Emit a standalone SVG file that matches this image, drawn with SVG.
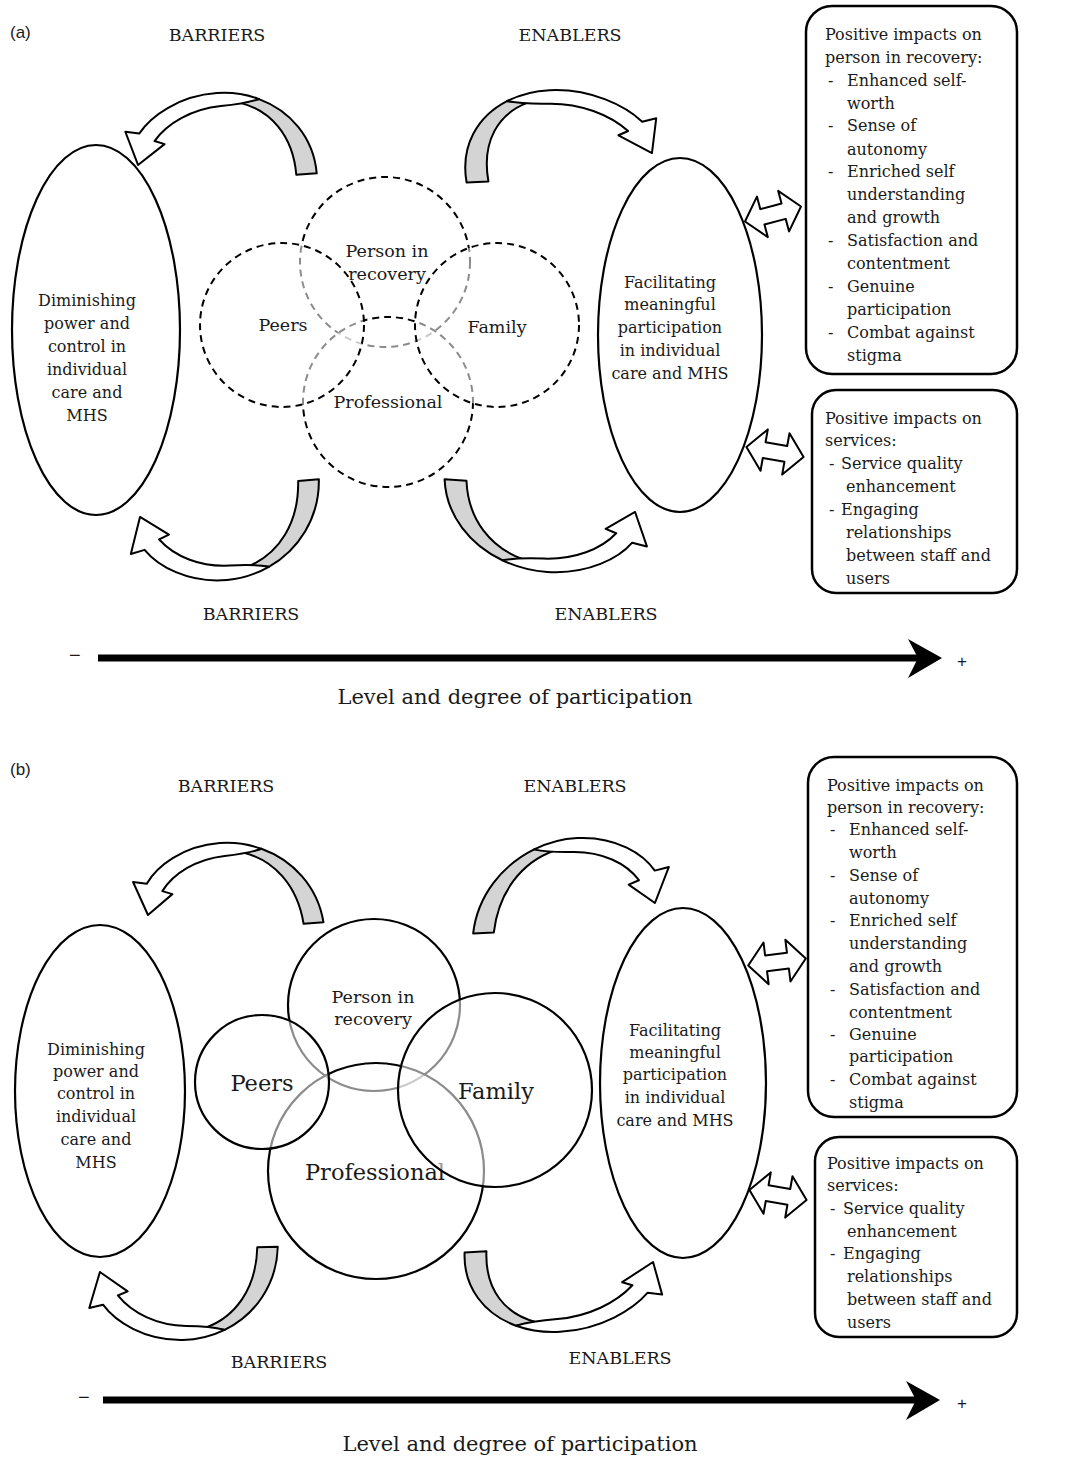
<svg xmlns="http://www.w3.org/2000/svg" xmlns:xlink="http://www.w3.org/1999/xlink" width="1082" height="1473" viewBox="0 0 1082 1473">
<style>
text{font-family:"DejaVu Serif","Liberation Serif",serif;fill:#1a1a1a}
.t{font-size:16px}
.c{text-anchor:middle}
.h{font-size:17.5px}
.m{font-size:17.5px}
.ax{font-size:21px}
.lab{font-family:"Liberation Sans",Arial,sans-serif;font-size:17px}
.sg{font-family:"Liberation Sans",Arial,sans-serif;font-size:20px}
.big{font-size:22.5px}
.node{fill:#fff;stroke:#000;stroke-width:2.2}
.dash{fill:#fff;fill-opacity:0.55;stroke:#000;stroke-width:2;stroke-dasharray:7 5}
.solid{fill:#fff;fill-opacity:0.55;stroke:#000;stroke-width:2.2}
.box{fill:#fff;stroke:#000;stroke-width:2.5}
.gr{fill:#d4d4d4;stroke:#000;stroke-width:2;stroke-linejoin:round}
.wh{fill:#fff;stroke:#000;stroke-width:2;stroke-linejoin:round}
</style>
<defs>
<g id="carrow">
<path class="gr" vector-effect="non-scaling-stroke" d="M -10,0 C -10,-38.5 12,-68.4 42.4,-82.6 L 62,-80 C 32,-70 11,-42 11,0 Z"/>
<path class="wh" vector-effect="non-scaling-stroke" d="M 42.4,-82.6 C 55.5,-88.7 70,-92 85,-92 C 125,-92 155,-72 168,-55 L 182,-58 L 172,-22 L 143,-42 L 153,-46 C 138,-64 112,-77 82,-78 C 64,-78.5 52,-80 42.4,-82.6 Z"/>
</g>
<path id="darrow" class="wh" d="M -29,0 L -11,-21 L -11,-8 L 11,-8 L 11,-21 L 29,0 L 11,21 L 11,8 L -11,8 L -11,21 Z"/>
</defs>
<rect width="1082" height="1473" fill="#fff"/>

<!-- Panel (a) -->
<text class="lab" x="10" y="38">(a)</text>
<text class="h c" x="217" y="41">BARRIERS</text>
<text class="h c" x="570" y="41">ENABLERS</text>
<text class="h c" x="251" y="620">BARRIERS</text>
<text class="h c" x="606" y="620">ENABLERS</text>
<text class="ax c" x="515" y="704">Level and degree of participation</text>

<g id="a-diminishing">
<ellipse class="node" cx="96" cy="330" rx="84" ry="185"/>
<text class="t c" x="87" y="306">Diminishing</text>
<text class="t c" x="87" y="329">power and</text>
<text class="t c" x="87" y="352">control in</text>
<text class="t c" x="87" y="375">individual</text>
<text class="t c" x="87" y="398">care and</text>
<text class="t c" x="87" y="421">MHS</text>
</g>
<g id="a-facilitating">
<ellipse class="node" cx="680" cy="335" rx="82" ry="177"/>
<text class="t c" x="670" y="288">Facilitating</text>
<text class="t c" x="670" y="310">meaningful</text>
<text class="t c" x="670" y="333">participation</text>
<text class="t c" x="670" y="356">in individual</text>
<text class="t c" x="670" y="379">care and MHS</text>
</g>
<g id="a-person">
<circle class="dash" cx="385" cy="262" r="85"/>
<text class="m c" x="387" y="257">Person in</text>
<text class="m c" x="387" y="280">recovery</text>
</g>
<g id="a-professional">
<circle class="dash" cx="388" cy="402" r="85"/>
<text class="m c" x="388" y="408">Professional</text>
</g>
<g id="a-peers">
<circle class="dash" cx="282" cy="325" r="82"/>
<text class="m c" x="283" y="331">Peers</text>
</g>
<g id="a-family">
<circle class="dash" cx="497" cy="325" r="82"/>
<text class="m c" x="497" y="333">Family</text>
</g>
<g id="a-box-person">
<rect class="box" x="806" y="6" width="211" height="368" rx="26"/>
<text class="t" x="825" y="40">Positive impacts on</text>
<text class="t" x="825" y="63">person in recovery:</text>
<text class="t" x="828" y="86">-</text><text class="t" x="847" y="86">Enhanced self-</text>
<text class="t" x="847" y="109">worth</text>
<text class="t" x="828" y="131">-</text><text class="t" x="847" y="131">Sense of</text>
<text class="t" x="847" y="155">autonomy</text>
<text class="t" x="828" y="177">-</text><text class="t" x="847" y="177">Enriched self</text>
<text class="t" x="847" y="200">understanding</text>
<text class="t" x="847" y="223">and growth</text>
<text class="t" x="828" y="246">-</text><text class="t" x="847" y="246">Satisfaction and</text>
<text class="t" x="847" y="269">contentment</text>
<text class="t" x="828" y="292">-</text><text class="t" x="847" y="292">Genuine</text>
<text class="t" x="847" y="315">participation</text>
<text class="t" x="828" y="338">-</text><text class="t" x="847" y="338">Combat against</text>
<text class="t" x="847" y="361">stigma</text>
</g>
<g id="a-box-services">
<rect class="box" x="812" y="390" width="205" height="203" rx="24"/>
<text class="t" x="825" y="424">Positive impacts on</text>
<text class="t" x="825" y="446">services:</text>
<text class="t" x="829" y="469">-</text><text class="t" x="841" y="469">Service quality</text>
<text class="t" x="846" y="492">enhancement</text>
<text class="t" x="829" y="515">-</text><text class="t" x="841" y="515">Engaging</text>
<text class="t" x="846" y="538">relationships</text>
<text class="t" x="846" y="561">between staff and</text>
<text class="t" x="846" y="584">users</text>
</g>

<!-- Panel (b) -->
<text class="lab" x="10" y="775">(b)</text>
<text class="h c" x="226" y="792">BARRIERS</text>
<text class="h c" x="575" y="792">ENABLERS</text>
<text class="h c" x="279" y="1368">BARRIERS</text>
<text class="h c" x="620" y="1364">ENABLERS</text>
<text class="ax c" x="520" y="1451">Level and degree of participation</text>

<g id="b-diminishing">
<ellipse class="node" cx="100" cy="1091" rx="85" ry="166"/>
<text class="t c" x="96" y="1055">Diminishing</text>
<text class="t c" x="96" y="1077">power and</text>
<text class="t c" x="96" y="1099">control in</text>
<text class="t c" x="96" y="1122">individual</text>
<text class="t c" x="96" y="1145">care and</text>
<text class="t c" x="96" y="1168">MHS</text>
</g>
<g id="b-facilitating">
<ellipse class="node" cx="683" cy="1083" rx="83" ry="175"/>
<text class="t c" x="675" y="1036">Facilitating</text>
<text class="t c" x="675" y="1058">meaningful</text>
<text class="t c" x="675" y="1080">participation</text>
<text class="t c" x="675" y="1103">in individual</text>
<text class="t c" x="675" y="1126">care and MHS</text>
</g>
<g id="b-person">
<circle class="solid" cx="374" cy="1005" r="86"/>
<text class="m c" x="373" y="1003">Person in</text>
<text class="m c" x="373" y="1025">recovery</text>
</g>
<g id="b-professional">
<circle class="solid" cx="376" cy="1171" r="108"/>
<text class="big c" x="375" y="1180">Professional</text>
</g>
<g id="b-peers">
<circle class="solid" cx="262" cy="1082" r="67"/>
<text class="big c" x="262" y="1091">Peers</text>
</g>
<g id="b-family">
<circle class="solid" cx="495" cy="1090" r="97"/>
<text class="big c" x="496" y="1099">Family</text>
</g>
<g id="b-box-person">
<rect class="box" x="808" y="757" width="209" height="360" rx="26"/>
<text class="t" x="827" y="791">Positive impacts on</text>
<text class="t" x="827" y="813">person in recovery:</text>
<text class="t" x="830" y="835">-</text><text class="t" x="849" y="835">Enhanced self-</text>
<text class="t" x="849" y="858">worth</text>
<text class="t" x="830" y="881">-</text><text class="t" x="849" y="881">Sense of</text>
<text class="t" x="849" y="904">autonomy</text>
<text class="t" x="830" y="926">-</text><text class="t" x="849" y="926">Enriched self</text>
<text class="t" x="849" y="949">understanding</text>
<text class="t" x="849" y="972">and growth</text>
<text class="t" x="830" y="995">-</text><text class="t" x="849" y="995">Satisfaction and</text>
<text class="t" x="849" y="1018">contentment</text>
<text class="t" x="830" y="1040">-</text><text class="t" x="849" y="1040">Genuine</text>
<text class="t" x="849" y="1062">participation</text>
<text class="t" x="830" y="1085">-</text><text class="t" x="849" y="1085">Combat against</text>
<text class="t" x="849" y="1108">stigma</text>
</g>
<g id="b-box-services">
<rect class="box" x="815" y="1137" width="202" height="200" rx="24"/>
<text class="t" x="827" y="1169">Positive impacts on</text>
<text class="t" x="827" y="1191">services:</text>
<text class="t" x="830" y="1214">-</text><text class="t" x="843" y="1214">Service quality</text>
<text class="t" x="847" y="1237">enhancement</text>
<text class="t" x="830" y="1259">-</text><text class="t" x="843" y="1259">Engaging</text>
<text class="t" x="847" y="1282">relationships</text>
<text class="t" x="847" y="1305">between staff and</text>
<text class="t" x="847" y="1328">users</text>
</g>

<g id="connectors">
<use xlink:href="#carrow" href="#carrow" transform="matrix(-0.972,0.068,0.082,0.942,307,174)"/>
<use xlink:href="#carrow" href="#carrow" transform="matrix(1.039,-0.046,0.170,0.956,477,182)"/>
<use xlink:href="#carrow" href="#carrow" transform="matrix(-0.985,0.086,-0.019,-1.007,309,480)"/>
<use xlink:href="#carrow" href="#carrow" transform="matrix(1.042,0.066,-0.039,-0.938,455,480)"/>
<use xlink:href="#carrow" href="#carrow" transform="matrix(-0.946,0.073,0.151,0.936,314,923)"/>
<use xlink:href="#carrow" href="#carrow" transform="matrix(0.985,-0.048,-0.114,0.988,483,933)"/>
<use xlink:href="#carrow" href="#carrow" transform="matrix(-0.974,0.018,0.025,-0.994,268,1247)"/>
<use xlink:href="#carrow" href="#carrow" transform="matrix(1.040,-0.060,0.037,-0.923,475,1252)"/>

<use xlink:href="#darrow" href="#darrow" transform="translate(773,214) rotate(-15)"/>
<use xlink:href="#darrow" href="#darrow" transform="translate(775,452) rotate(10)"/>
<use xlink:href="#darrow" href="#darrow" transform="translate(777,962) rotate(-7)"/>
<use xlink:href="#darrow" href="#darrow" transform="translate(778,1195) rotate(10)"/>

<line x1="98" y1="658" x2="918" y2="658" stroke="#000" stroke-width="7"/>
<path d="M 908,639 L 942,658 L 908,678 L 918,658 Z" fill="#000"/>
<line x1="103" y1="1400" x2="916" y2="1400" stroke="#000" stroke-width="7"/>
<path d="M 906,1381 L 940,1400 L 906,1420 L 916,1400 Z" fill="#000"/>
</g>
<text class="sg" x="69" y="662">−</text>
<text class="lab" x="957" y="667">+</text>
<text class="sg" x="78" y="1404">−</text>
<text class="lab" x="957" y="1409">+</text>
</svg>
